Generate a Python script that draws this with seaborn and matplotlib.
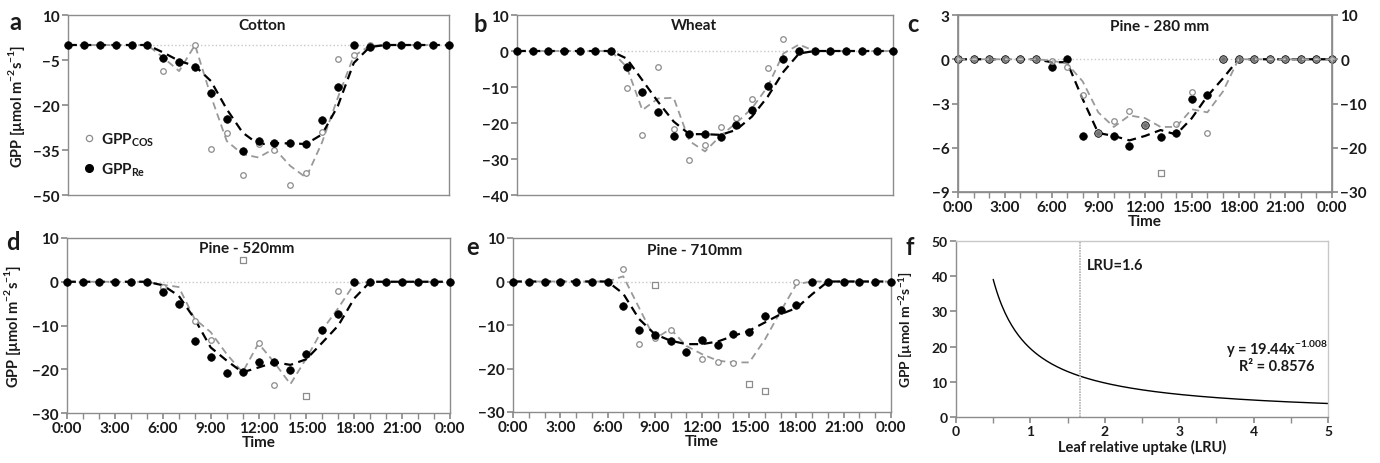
import numpy as np
import matplotlib
matplotlib.use("Agg")
import matplotlib.pyplot as plt
from matplotlib.lines import Line2D
from matplotlib.ticker import MultipleLocator
import seaborn as sns

nan = np.nan

# =====================================
# DATA
# =====================================

hours = list(range(25))
time_ticks = [0, 3, 6, 9, 12, 15, 18, 21, 24]
time_labels = ["0:00", "3:00", "6:00", "9:00", "12:00", "15:00", "18:00", "21:00", "0:00"]

# a - Cotton
cotton_re = [0, 0, 0, 0, 0, 0, -4.4, -5.6, -7.2, -16.1, -24.5, -35.4, -32.1,
             -32.5, -32.8, -33.0, -25.1, -14.0, 0, -0.7, 0, 0, 0, 0, 0]
cotton_cos = [0, 0, 0, 0, 0, 0, -8.7, nan, 0, -34.7, -29.4, -43.2, -33.0,
              -35.0, -46.7, -42.5, -28.9, -4.8, -3.3, 0, 0, 0, 0, 0, 0]
cotton_re_trend = [0, 0, 0, 0, 0, 0, -2.5, -5.3, -7.0, -12.0, -21.4, -29.2, -33.1,
                   -32.7, -32.8, -33.0, -29.8, -20.3, -6.0, -0.7, 0, 0, 0, 0, 0]
cotton_cos_trend = [0, 0, 0, 0, 0, 0, -4.2, -8.7, 0, -17.0, -32.0, -36.4, -37.5,
                    -34.5, -40.3, -44.2, -32.5, -17.5, -3.7, -0.3, 0, 0, 0, 0, 0]

# b - Wheat
wheat_re = [0, 0, 0, 0, 0, 0, 0, -4.4, -11.4, -16.9, -23.5, -23.1, -23.1,
            -23.8, -20.6, -16.3, -9.7, -2.1, 0, 0, 0, 0, 0, 0, 0]
wheat_cos = [0, 0, 0, 0, 0, 0, 0, -10.2, -23.3, -4.4, -21.7, -30.3, -26.1,
             -21.0, -18.7, -13.4, -4.7, 3.3, 0, 0, 0, 0, 0, 0, 0]
wheat_re_trend = [0, 0, 0, 0, 0, 0, 0, -2.1, -8.1, -14.1, -19.6, -23.1, -23.1,
                  -23.3, -21.9, -18.2, -12.7, -5.8, -0.7, 0, 0, 0, 0, 0, 0]
wheat_cos_trend = [0, 0, 0, 0, 0, 0, 0, -4.4, -16.4, -13.2, -13.0, -25.0, -27.9,
                   -23.5, -20.0, -15.9, -9.9, -0.7, 1.8, 0, 0, 0, 0, 0, 0]

# c - Pine 280 mm (Re on left axis, COS on right axis)
pine280_re = [0, 0, 0, 0, 0, 0, -0.5, 0, -5.2, -5.0, -5.2, -5.9, -4.45,
              -5.3, -5.0, -2.7, -2.4, 0, 0, 0, 0, 0, 0, 0, 0]
pine280_cos = [0, 0, 0, 0, 0, 0, -0.5, -1.8, -8.0, -16.7, -14.0, -11.7, -14.8,
               nan, -14.7, -7.3, -16.7, 0, 0, 0, 0, 0, 0, 0, 0]
pine280_re_trend = [0, 0, 0, 0, 0, 0, -0.2, -0.2, -2.7, -5.0, -5.2, -5.5, -5.2,
                    -4.8, -5.1, -4.0, -2.5, -1.3, 0, 0, 0, 0, 0, 0, 0]
pine280_cos_trend = [0, 0, 0, 0, 0, 0, -0.3, -1.0, -5.0, -12.0, -15.3, -12.7, -13.3,
                     -15.3, -15.3, -11.3, -12.0, -7.3, 0, 0, 0, 0, 0, 0, 0]
pine280_out_h = [13]
pine280_out = [-25.7]

# d - Pine 520 mm
pine520_re = [0, 0, 0, 0, 0, 0, -2.3, -5.1, -13.6, -17.1, -20.9, -20.7, -18.3,
              -18.3, -20.1, -16.5, -11.0, -7.4, 0, 0, 0, 0, 0, 0, 0]
pine520_cos = [0, 0, 0, 0, 0, 0, -1.1, nan, -8.9, -13.3, nan, -20.7, -14.1,
               -23.5, nan, nan, -11.0, -2.1, 0, 0, 0, 0, 0, 0, 0]
pine520_re_trend = [0, 0, 0, 0, 0, 0, -0.8, -3.2, -8.5, -15.0, -18.0, -20.7, -19.6,
                    -18.4, -19.0, -17.7, -13.9, -10.0, -3.8, 0, 0, 0, 0, 0, 0]
pine520_cos_trend = [0, 0, 0, 0, 0, 0, -0.7, -1.2, -8.5, -11.5, -16.5, -20.7, -14.1,
                     -18.5, -23.4, -17.5, -11.0, -6.0, -0.5, 0, 0, 0, 0, 0, 0]
pine520_out_h = [11, 15]
pine520_out = [5.0, -26.1]

# e - Pine 710 mm
pine710_re = [0, 0, 0, 0, 0, 0, 0, -5.6, -11.2, -12.2, -13.6, -16.2, -13.5,
              -14.5, -12.1, -11.5, -8.0, -6.5, -5.5, 0, 0, 0, 0, 0, 0]
pine710_cos = [0, 0, 0, 0, 0, 0, 0, 2.8, -14.4, -13.0, -11.1, nan, -17.8,
               -18.4, -18.8, nan, nan, nan, 0, nan, 0, 0, 0, 0, 0]
pine710_re_trend = [0, 0, 0, 0, 0, 0, 0, -2.8, -8.6, -12.1, -13.6, -14.4, -14.4,
                    -13.8, -12.5, -11.3, -9.4, -7.5, -6.1, -2.9, 0, 0, 0, 0, 0]
pine710_cos_trend = [0, 0, 0, 0, 0, 0, 0, 1.2, -6.0, -13.2, -10.9, -14.8, -16.7,
                     -18.2, -18.6, -18.6, -13.3, -6.8, -0.6, 0, 0, 0, 0, 0, 0]
pine710_out_h = [9, 15, 16]
pine710_out = [-0.9, -23.6, -25.2]

# f - power fit shown on the panel
fit_a = 19.44
fit_b = -1.008
fit_r2 = 0.8576
lru_min, lru_max = 0.5, 5.0
lru_mark = 1.66


# =====================================
# STYLE
# =====================================

sns.set_theme(style="white")
plt.rcParams["font.family"] = ["Lato", "DejaVu Sans"]
plt.rcParams["mathtext.fontset"] = "custom"
plt.rcParams["mathtext.rm"] = "Lato:bold"
plt.rcParams["mathtext.bf"] = "Lato:bold"

SPINE = "#8c8c8c"
TXT = "#1a1a1a"
GRAY = "#999999"
YLAB = r"GPP [µmol m$^{-2}$s$^{-1}$]"

fig = plt.figure(figsize=(13.8, 4.64), dpi=100)


def style_axis(ax, ylim, ystep, show_time):
    ax.set_xlim(0, 24)
    ax.set_ylim(*ylim)
    ax.set_yticks(np.arange(ylim[0], ylim[1] + 0.01, ystep))
    for s in ax.spines.values():
        s.set_color(SPINE)
        s.set_linewidth(1)
    ax.tick_params(axis="both", which="both", direction="out", color=SPINE,
                   labelsize=11, labelcolor=TXT, pad=2)
    ax.tick_params(axis="y", length=4, left=True)
    for lab in ax.get_yticklabels():
        lab.set_fontweight("bold")
    if show_time:
        ax.set_xticks(time_ticks)
        ax.set_xticklabels(time_labels, fontweight="bold")
        ax.xaxis.set_minor_locator(MultipleLocator(1))
        ax.tick_params(axis="x", which="both", length=4, bottom=True)
        ax.set_xlabel("Time", fontsize=11, fontweight="bold", color=TXT, labelpad=0)
    else:
        ax.set_xticks([])
    ax.axhline(0, color="#c8c8c8", lw=1, ls=":", zorder=1)


def draw_day(ax, re, cos, re_trend, cos_trend, out_h=None, out=None, cos_ax=None):
    cax = ax if cos_ax is None else cos_ax
    sns.lineplot(x=hours, y=cos_trend, ax=cax, color=GRAY, lw=1.3,
                 linestyle=(0, (4, 2.5)), zorder=2)
    sns.lineplot(x=hours, y=re_trend, ax=ax, color="black", lw=1.6,
                 linestyle=(0, (4, 2.5)), zorder=3)
    sns.scatterplot(x=hours, y=re, ax=ax, color="black", s=30,
                    edgecolor="black", linewidth=0.5, zorder=4, clip_on=False)
    face = "white" if cos_ax is None else (1, 1, 1, 0.45)
    sns.scatterplot(x=hours, y=cos, ax=cax, color=face, s=16,
                    edgecolor="#8c8c8c", linewidth=0.9,
                    zorder=3 if cos_ax is None else 5, clip_on=False)
    if out_h is not None:
        sns.scatterplot(x=out_h, y=out, ax=cax, marker="s", color="white", s=14,
                        edgecolor="#8c8c8c", linewidth=0.9, zorder=5, clip_on=False)


def title(ax, text, x, y):
    ax.text(x, y, text, transform=ax.transAxes, ha="center", va="center",
            fontsize=11, fontweight="bold", color=TXT)


W, H = 1380, 464


def add_axes(l, r, t, b):
    return fig.add_axes([l / W, 1 - b / H, (r - l) / W, (b - t) / H])


# =====================================
# PANELS
# =====================================

ax_a = add_axes(68, 449, 16, 196)
draw_day(ax_a, cotton_re, cotton_cos, cotton_re_trend, cotton_cos_trend)
style_axis(ax_a, (-50, 10), 15, False)
title(ax_a, "Cotton", 0.51, 0.945)
ax_a.set_ylabel(YLAB, fontsize=10.5, fontweight="bold", color=TXT)
ax_a.yaxis.set_label_coords(-0.108, 0.5)
handles = [
    Line2D([], [], marker="o", ls="", markersize=4.5, markerfacecolor="white",
           markeredgecolor="#8c8c8c", markeredgewidth=0.9),
    Line2D([], [], marker="o", ls="", markersize=5.5, color="black"),
]
ax_a.legend(handles, [r"GPP$_{\mathbf{COS}}$", r"GPP$_{\mathbf{Re}}$"],
            loc="lower left", bbox_to_anchor=(-0.005, 0.02), frameon=False,
            prop={"size": 11, "weight": "bold"}, handletextpad=0.2,
            handlelength=1.2, labelspacing=0.75, labelcolor=TXT)

ax_b = add_axes(517, 893, 16, 196)
draw_day(ax_b, wheat_re, wheat_cos, wheat_re_trend, wheat_cos_trend)
style_axis(ax_b, (-40, 10), 10, False)
title(ax_b, "Wheat", 0.47, 0.945)

ax_c = add_axes(958, 1332, 16, 193)
ax_c2 = ax_c.twinx()
draw_day(ax_c, pine280_re, pine280_cos, pine280_re_trend, pine280_cos_trend,
         pine280_out_h, pine280_out, cos_ax=ax_c2)
style_axis(ax_c, (-9, 3), 3, True)
ax_c2.set_ylim(-30, 10)
ax_c2.set_yticks([-30, -20, -10, 0, 10])
ax_c2.tick_params(axis="y", direction="out", length=4, color=SPINE,
                  labelsize=11, labelcolor=TXT, pad=2, right=True)
for lab in ax_c2.get_yticklabels():
    lab.set_fontweight("bold")
for s in ax_c2.spines.values():
    s.set_color(SPINE)
ax_c2.grid(False)
title(ax_c, "Pine - 280 mm", 0.54, 0.94)

ax_d = add_axes(67, 450, 239, 414)
draw_day(ax_d, pine520_re, pine520_cos, pine520_re_trend, pine520_cos_trend,
         pine520_out_h, pine520_out)
style_axis(ax_d, (-30, 10), 10, True)
title(ax_d, "Pine - 520mm", 0.47, 0.945)
ax_d.set_ylabel(YLAB, fontsize=10.5, fontweight="bold", color=TXT)
ax_d.yaxis.set_label_coords(-0.115, 0.5)

ax_e = add_axes(513, 891, 239, 413)
draw_day(ax_e, pine710_re, pine710_cos, pine710_re_trend, pine710_cos_trend,
         pine710_out_h, pine710_out)
style_axis(ax_e, (-30, 10), 10, True)
title(ax_e, "Pine - 710mm", 0.48, 0.93)

# f - GPP vs LRU
ax_f = add_axes(956, 1328, 242, 418)
lru = np.linspace(lru_min, lru_max, 200)
sns.lineplot(x=lru, y=fit_a * lru ** fit_b, ax=ax_f, color="black", lw=1)
ax_f.axvline(lru_mark, color="#b0b0b0", lw=1.2, ls=(0, (1, 0.6)))
ax_f.set_xlim(0, 5)
ax_f.set_ylim(0, 50)
ax_f.xaxis.set_major_locator(MultipleLocator(1))
ax_f.xaxis.set_minor_locator(MultipleLocator(0.5))
ax_f.yaxis.set_major_locator(MultipleLocator(10))
for s in ax_f.spines.values():
    s.set_color("#c8c8c8")
    s.set_linewidth(1)
ax_f.spines["left"].set_color(SPINE)
ax_f.spines["bottom"].set_color(SPINE)
ax_f.tick_params(axis="both", which="both", direction="out", color=SPINE,
                 labelsize=10, labelcolor=TXT, length=4, pad=2,
                 bottom=True, left=True)
for lab in ax_f.get_xticklabels() + ax_f.get_yticklabels():
    lab.set_fontweight("bold")
ax_f.set_xlabel("Leaf relative uptake (LRU)", fontsize=10.5, fontweight="bold",
                color=TXT, labelpad=1)
ax_f.set_ylabel(YLAB, fontsize=10, fontweight="bold", color=TXT)
ax_f.yaxis.set_label_coords(-0.11, 0.5)
ax_f.text(1.76, 43.2, "LRU=1.6", fontsize=10.5, fontweight="bold", color=TXT,
          va="center")
ax_f.text(4.31, 19.8, f"y = {fit_a}x$^{{{fit_b}}}$", fontsize=10.5,
          fontweight="bold", color=TXT, ha="center", va="center")
ax_f.text(4.31, 14.6, f"R² = {fit_r2}", fontsize=10.5, fontweight="bold",
          color=TXT, ha="center", va="center")

# panel letters
for letter, x, y in [("a", 15, 22), ("b", 480, 25), ("c", 913, 25),
                     ("d", 13, 243), ("e", 473, 248), ("f", 910, 248)]:
    fig.text(x / W, 1 - y / H, letter, fontsize=17, fontweight="bold",
             ha="center", va="center", color=TXT)

fig.savefig("out.png", dpi=100, facecolor="white")
